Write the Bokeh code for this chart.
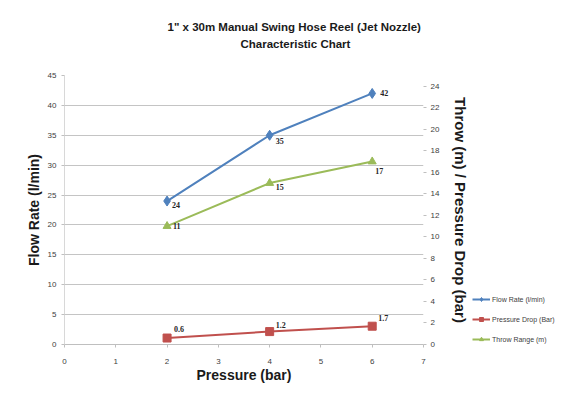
from bokeh.plotting import figure
from bokeh.layouts import row
from bokeh.models import (Range1d, LinearAxis, FixedTicker, ColumnDataSource, LabelSet,
                          Legend, LegendItem, Title)
from bokeh.embed import file_html
from bokeh.resources import INLINE
from bokeh.core.properties import value

# ---- data ----
pressure = [2, 4, 6]
flow_rate = [24, 35, 42]          # l/min (left axis)
pressure_drop = [0.6, 1.2, 1.7]   # bar (right axis)
throw_range = [11, 15, 17]        # m (right axis)
flow_labels = ["24", "35", "42"]
drop_labels = ["0.6", "1.2", "1.7"]
throw_labels = ["11", "15", "17"]
x_ticks = [0, 1, 2, 3, 4, 5, 6, 7]
left_ticks = [0, 5, 10, 15, 20, 25, 30, 35, 40, 45]
right_ticks = [0, 2, 4, 6, 8, 10, 12, 14, 16, 18, 20, 22, 24]

# label placement (pixels) kept apart from the data
flow_dx, flow_dy = [5, 6, 8], [-4, -6, 0]
drop_dx, drop_dy = [7, 6, 6], [9, 7, 8]
throw_dx, throw_dy = [6, 6, 3], [0, -4, -9]

BLUE = "#4F81BD"
RED = "#C0504D"
GREEN = "#9BBB59"
FONT = "Liberation Sans"

p = figure(width=472, height=400, output_backend="svg", toolbar_location=None,
           x_range=Range1d(0, 7), y_range=Range1d(0, 45),
           min_border_left=64, min_border_right=48, min_border_top=75, min_border_bottom=56,
           background_fill_color="white", border_fill_color="white",
           title='1" x 30m Manual Swing Hose Reel (Jet Nozzle)')
p.outline_line_color = None
p.extra_y_ranges = {"right": Range1d(0, 25)}

# titles: plot title is the outer line; spacer then second line sit next to the plot
p.title.align = "left"
p.title.offset = 103
p.title.standoff = 3
p.title.text_font = FONT
p.title.text_font_size = "11.5px"
p.title.text_font_style = "bold"
p.title.text_color = "#1a1a1a"
spacer = Title(text=" ", align="left", standoff=10, text_font=FONT, text_font_size="11.5px")
p.add_layout(spacer, "above")
t2 = Title(text="Characteristic Chart", align="left", offset=176, standoff=3,
           text_font=FONT, text_font_size="11.5px", text_font_style="bold", text_color="#1a1a1a")
p.add_layout(t2, "above")

# grid
p.xgrid.grid_line_color = None
p.ygrid.grid_line_color = "#C4C4C4"
p.ygrid.grid_line_width = 1

# axes
p.xaxis.ticker = FixedTicker(ticks=x_ticks)
p.yaxis.ticker = FixedTicker(ticks=left_ticks)
for ax in [p.xaxis[0], p.yaxis[0]]:
    ax.major_label_text_font = FONT
    ax.major_label_text_font_size = "8px"
    ax.major_label_text_color = "#404040"
    ax.minor_tick_line_color = None
    ax.major_tick_in = 0
    ax.major_tick_out = 3
    ax.major_tick_line_color = "#BFBFBF"
    ax.axis_line_color = "#D8D8D8"
    ax.axis_label_text_font = FONT
    ax.axis_label_text_font_size = "14px"
    ax.axis_label_text_font_style = "bold"
    ax.axis_label_text_color = "#1a1a1a"
p.xaxis.axis_label = "Pressure (bar)"
p.xaxis.axis_line_color = "#BFBFBF"
p.xaxis.major_label_standoff = 11
p.xaxis.axis_label_standoff = 0
p.yaxis.axis_label = "Flow Rate (l/min)"
p.yaxis.major_label_standoff = 5
p.yaxis.axis_label_standoff = 3

ra = LinearAxis(y_range_name="right", ticker=FixedTicker(ticks=right_ticks),
                axis_label="Throw (m) / Pressure Drop (bar)")
ra.major_label_text_font = FONT
ra.major_label_text_font_size = "8px"
ra.major_label_text_color = "#404040"
ra.minor_tick_line_color = None
ra.major_tick_in = 0
ra.major_tick_out = 3
ra.major_tick_line_color = "#BFBFBF"
ra.axis_line_color = None
ra.major_label_standoff = 4
ra.axis_label_text_font = FONT
ra.axis_label_text_font_size = "15px"
ra.axis_label_text_font_style = "bold"
ra.axis_label_text_color = "#1a1a1a"
ra.axis_label_standoff = 10
p.add_layout(ra, "right")

# series
src_f = ColumnDataSource(dict(x=pressure, y=flow_rate))
src_d = ColumnDataSource(dict(x=pressure, y=pressure_drop))
src_t = ColumnDataSource(dict(x=pressure, y=throw_range))

style_f = dict(marker="diamond", size=10, fill_color=BLUE, line_color=BLUE)
style_d = dict(marker="square", size=8, fill_color=RED, line_color=RED)
style_t = dict(marker="triangle", size=8, fill_color=GREEN, line_color=GREEN)

p.line("x", "y", source=src_f, line_color=BLUE, line_width=2)
p.scatter("x", "y", source=src_f, **style_f)
p.line("x", "y", source=src_d, line_color=RED, line_width=2, y_range_name="right")
p.scatter("x", "y", source=src_d, y_range_name="right", **style_d)
p.line("x", "y", source=src_t, line_color=GREEN, line_width=2, y_range_name="right")
p.scatter("x", "y", source=src_t, y_range_name="right", **style_t)

lab_kw = dict(text="t", text_font=value("Liberation Serif"), text_font_size="8px",
              text_font_style="bold", text_color="#262626", text_baseline="middle",
              x_offset="dx", y_offset="dy")
lsrc_f = ColumnDataSource(dict(x=pressure, y=flow_rate, t=flow_labels, dx=flow_dx, dy=flow_dy))
lsrc_d = ColumnDataSource(dict(x=pressure, y=pressure_drop, t=drop_labels, dx=drop_dx, dy=drop_dy))
lsrc_t = ColumnDataSource(dict(x=pressure, y=throw_range, t=throw_labels, dx=throw_dx, dy=throw_dy))
p.add_layout(LabelSet(x="x", y="y", source=lsrc_f, **lab_kw))
p.add_layout(LabelSet(x="x", y="y", source=lsrc_d, y_range_name="right", **lab_kw))
p.add_layout(LabelSet(x="x", y="y", source=lsrc_t, y_range_name="right", **lab_kw))

# legend panel beside the chart (its own small canvas; series kept out of its view)
q = figure(width=95, height=400, output_backend="svg", toolbar_location=None,
           x_range=Range1d(-20, -10), y_range=Range1d(-20, -10),
           x_axis_location=None, y_axis_location=None, min_border=0,
           background_fill_color="white", border_fill_color="white")
q.outline_line_color = None
q.grid.visible = False
qf = [q.line("x", "y", source=src_f, line_color=BLUE, line_width=2), q.scatter("x", "y", source=src_f, **style_f)]
qd = [q.line("x", "y", source=src_d, line_color=RED, line_width=2), q.scatter("x", "y", source=src_d, **style_d)]
qt = [q.line("x", "y", source=src_t, line_color=GREEN, line_width=2), q.scatter("x", "y", source=src_t, **style_t)]
legend = Legend(items=[LegendItem(label="Flow Rate (l/min)", renderers=qf),
                       LegendItem(label="Pressure Drop (Bar)", renderers=qd),
                       LegendItem(label="Throw Range (m)", renderers=qt)],
                location=(0, 0), orientation="vertical",
                label_text_font=FONT, label_text_font_size="7px", label_text_color="#404040",
                glyph_width=18, glyph_height=10, spacing=10, label_standoff=2, padding=2,
                margin=0, border_line_color=None, background_fill_alpha=0)
q.add_layout(legend, "center")

open("out.html", "w").write(file_html(row(p, q), INLINE))
